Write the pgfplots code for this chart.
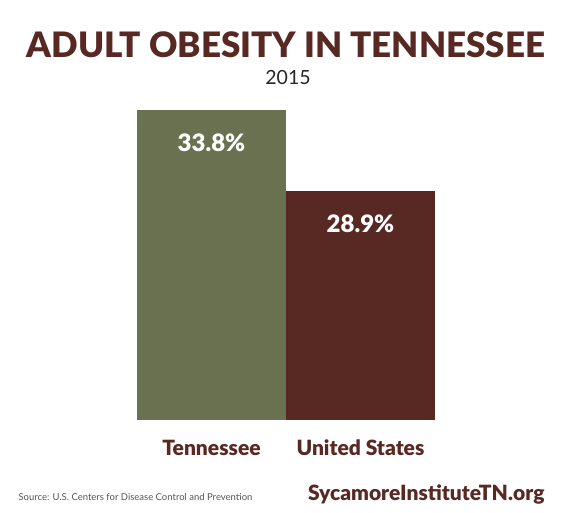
\documentclass[border=0pt]{standalone}
\usepackage{pgfplots}
\pgfplotsset{compat=1.18}
\usepackage{fontspec}
\setmainfont{Lato}[BoldFont={Lato Black}]
\definecolor{olive}{HTML}{6A7150}
\definecolor{maroon}{HTML}{582822}
\definecolor{srcgray}{HTML}{555555}
\begin{document}
\begin{tikzpicture}
\fill[white] (0pt,0pt) rectangle (577pt,512pt);
\node[anchor=base,text=maroon,font=\fontsize{35}{38}\selectfont\bfseries] at (286pt,454pt) {ADULT OBESITY IN TENNESSEE};
\node[anchor=base,text=black!85,font=\fontsize{19.5}{22}\selectfont] at (288pt,427pt) {2015};
\begin{axis}[
  at={(137pt,92pt)}, anchor=south west,
  scale only axis, width=298pt, height=310pt,
  xmin=-0.5, xmax=1.5, ymin=15, ymax=33.8,
  axis line style={draw=none}, tick style={draw=none},
  ytick=\empty,
  xtick={0,1}, xticklabels={Tennessee,United States},
  xticklabel style={text=maroon,font=\fontsize{21}{23}\selectfont\bfseries,yshift=-12pt},
  ybar, bar width=149pt, bar shift=0pt,
  clip=false,
  nodes near coords={\pgfmathprintnumber[fixed,precision=1,fixed zerofill,assume math mode=true]{\pgfplotspointmeta}\%},
  every node near coord/.append style={anchor=north,yshift=-20pt,text=white,font=\fontsize{24}{26}\selectfont\bfseries},
]
\addplot[fill=olive,draw=none] coordinates {(0,33.8)};
\addplot[fill=maroon,draw=none] coordinates {(1,28.9)};
\end{axis}
\node[anchor=base west,text=srcgray,font=\fontsize{9.5}{11}\selectfont] at (15pt,12pt) {Source: U.S. Centers for Disease Control and Prevention};
\node[anchor=base east,text=maroon,font=\fontsize{21}{23}\selectfont\bfseries] at (548pt,12pt) {SycamoreInstituteTN.org};
\end{tikzpicture}
\end{document}
